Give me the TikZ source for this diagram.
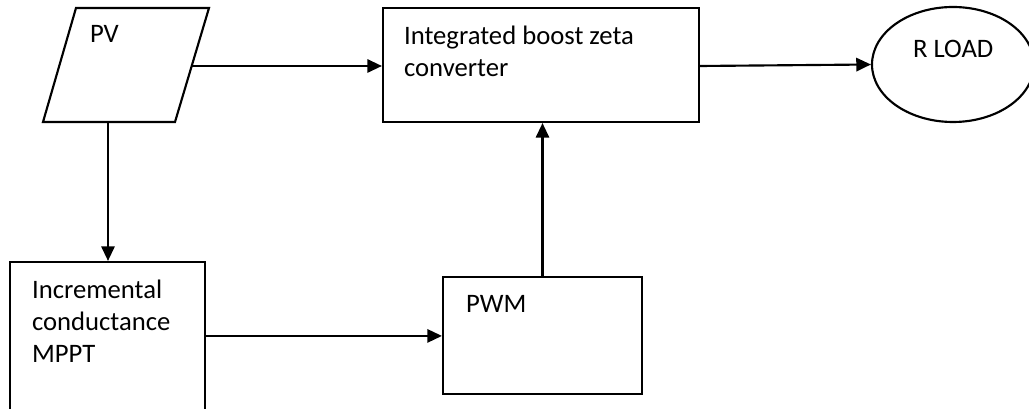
\documentclass[tikz,border=0pt]{standalone}
\usepackage{fontspec}
\setmainfont{Carlito}
\usetikzlibrary{shapes.geometric,arrows.meta,calc}
\begin{document}
\begin{tikzpicture}[x=0.75pt,y=-0.75pt,
  every path/.style={line width=1.6pt},
  box/.style={draw,rectangle,inner sep=0pt,line width=1.6pt},
  lbl/.style={anchor=base west,inner sep=0pt,font=\fontsize{20pt}{24pt}\selectfont},
  arr/.style={-{Triangle[length=11pt,width=10pt]},line width=1.6pt}]
\useasboundingbox (0,0) rectangle (1029,409);
% PV parallelogram
\draw (76,8) -- (209,8) -- (175,122) -- (43,122) -- cycle;
\coordinate (pvR) at (192,66);
\coordinate (pvB) at (108,122);
\node[lbl] (pvt) at (89,43) {PV};
% integrated converter
\node[box,minimum width=237pt,minimum height=85.5pt] (conv) at (541,65) {};
\node[lbl] (convt1) at (403,45) {Integrated boost zeta};
\node[lbl] (convt2) at (403,77) {converter};
% R load
\node[draw,ellipse,inner sep=0pt,minimum width=121.5pt,minimum height=86.25pt,line width=1.6pt] (load) at (953,64.5) {};
\node[lbl] (loadt) at (912,58) {R LOAD};
% MPPT
\node[box,minimum width=146.25pt,minimum height=126pt] (mppt) at (107.5,346) {};
\node[lbl] (mppt1) at (31,299) {Incremental};
\node[lbl] (mppt2) at (31,331) {conductance};
\node[lbl] (mppt3) at (31,363) {MPPT};
% PWM
\node[box,minimum width=149.25pt,minimum height=87.75pt] (pwm) at (542.5,335.5) {};
\node[lbl] (pwmt) at (465,313) {PWM};
% connectors
\draw[arr] (pvR) -- (pvR -| conv.west);
\draw[arr] (conv.east |- pvR) -- (load.west);
\draw[arr] (pvB) -- (pvB |- mppt.north);
\coordinate (mpR) at ($(mppt.north east)+(0,75)$);
\draw[arr] (mpR) -- (mpR -| pwm.west);
\draw[arr] (pwm.north) -- (pwm.north |- conv.south);
\end{tikzpicture}
\end{document}
